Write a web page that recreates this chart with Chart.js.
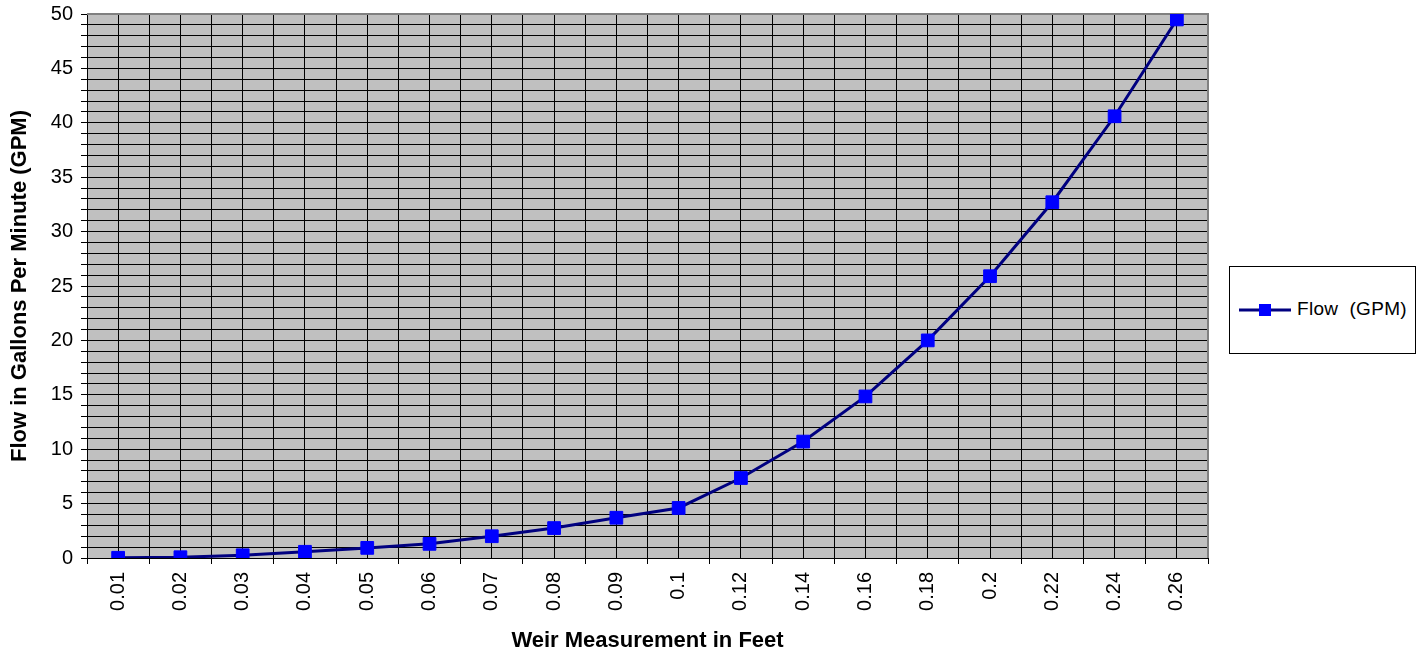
<!DOCTYPE html>
<html>
<head>
<meta charset="utf-8">
<script src="https://cdn.jsdelivr.net/npm/chart.js@4"></script>
<style>
  html, body { margin: 0; padding: 0; background: #fff; }
  #wrap { position: relative; width: 1423px; height: 656px; }
  #legend { position: absolute; left: 1229px; top: 266px; width: 185px; height: 86px;
    border: 1px solid #000; background: #fff; font-family: "Liberation Sans", Arial, sans-serif;
    font-size: 19px; color: #000; }
  #legend svg { position: absolute; left: 8px; top: 33px; }
  #legend span { position: absolute; left: 67px; top: 31px; white-space: pre; line-height: 22px; letter-spacing: 0.3px; }
</style>
</head>
<body>
<div id="wrap">
  <canvas id="c" width="1423" height="656"></canvas>
  <div id="legend">
    <svg width="54" height="20"><line x1="1" y1="10" x2="53" y2="10" stroke="#000080" stroke-width="3"/><rect x="21" y="4" width="12" height="12" fill="#0000FF"/></svg>
    <span>Flow  (GPM)</span>
  </div>
</div>
<script>
const categories = ['0.01','0.02','0.03','0.04','0.05','0.06','0.07','0.08','0.09','0.1','0.12','0.14','0.16','0.18','0.2','0.22','0.24','0.26'];
const flowGPM = [0.02, 0.07, 0.25, 0.57, 0.93, 1.3, 2.0, 2.75, 3.7, 4.6, 7.35, 10.7, 14.85, 20.0, 25.9, 32.7, 40.6, 49.5];
const yMin = 0, yMax = 50, yLabelStep = 5, yGridStep = 1;
const xTitle = 'Weir Measurement in Feet';
const yTitle = 'Flow in Gallons Per Minute (GPM)';
const seriesName = 'Flow  (GPM)';

const FONT = '"Liberation Sans", Arial, sans-serif';

const plotBg = {
  id: 'plotBg',
  beforeDraw(chart) {
    const {ctx, chartArea: a} = chart;
    ctx.save();
    ctx.fillStyle = '#C0C0C0';
    ctx.fillRect(a.left, a.top, a.right - a.left, a.bottom - a.top);
    ctx.restore();
  },
  beforeDatasetsDraw(chart) {
    const {ctx, chartArea: a} = chart;
    ctx.save();
    ctx.strokeStyle = '#808080';
    ctx.lineWidth = 2;
    ctx.beginPath();
    ctx.moveTo(a.left, a.top);
    ctx.lineTo(a.right, a.top);
    ctx.lineTo(a.right, a.bottom);
    ctx.stroke();
    ctx.restore();
  }
};

new Chart(document.getElementById('c'), {
  type: 'line',
  data: {
    labels: categories,
    datasets: [{
      label: seriesName,
      data: flowGPM,
      borderColor: '#000080',
      borderWidth: 3,
      backgroundColor: '#0000FF',
      pointBackgroundColor: '#0000FF',
      pointBorderColor: '#0000FF',
      pointBorderWidth: 1,
      pointStyle: 'rect',
      pointRadius: 9,
      tension: 0,
      fill: false,
      xAxisID: 'x',
      yAxisID: 'y'
    }]
  },
  options: {
    responsive: false,
    animation: false,
    devicePixelRatio: 1,
    layout: { padding: { left: 0, right: 215, top: 14, bottom: 0 } },
    plugins: { legend: { display: false }, tooltip: { enabled: false } },
    scales: {
      x: {
        type: 'category',
        position: 'bottom',
        offset: true,
        grid: { offset: true, color: '#000', lineWidth: 1, tickLength: 6, tickColor: '#000', drawOnChartArea: true },
        border: { display: true, color: '#000', width: 1 },
        ticks: { color: '#000', font: { family: FONT, size: 20 }, minRotation: 90, maxRotation: 90, autoSkip: false, padding: 8 },
        title: { display: true, text: xTitle, color: '#000', font: { family: FONT, size: 22, weight: 'bold' }, padding: { top: 0, bottom: 2 } },
        afterFit(scale) { scale.height = 98; scale.paddingLeft = 0; scale.paddingRight = 0; }
      },
      x2: {
        type: 'category',
        position: 'bottom',
        offset: true,
        grid: { offset: false, color: '#000', lineWidth: 1, drawTicks: false, drawOnChartArea: true },
        border: { display: false },
        ticks: { display: false },
        afterFit(scale) { scale.height = 0; }
      },
      y: {
        type: 'linear',
        position: 'left',
        min: yMin,
        max: yMax,
        grid: { color: '#000', lineWidth: 1, tickLength: 6, tickColor: '#000' },
        border: { display: true, color: '#000', width: 1 },
        ticks: {
          stepSize: yGridStep, autoSkip: false, color: '#000',
          font: { family: FONT, size: 20 }, padding: 8,
          callback: (v) => (v % yLabelStep === 0 ? String(v) : '')
        },
        title: { display: true, text: yTitle, color: '#000', font: { family: FONT, size: 22, weight: 'bold' }, padding: { top: 7, bottom: 0 } },
        afterFit(scale) { scale.width = 87; scale.paddingTop = 0; scale.paddingBottom = 0; }
      }
    }
  },
  plugins: [plotBg]
});
</script>
</body>
</html>
